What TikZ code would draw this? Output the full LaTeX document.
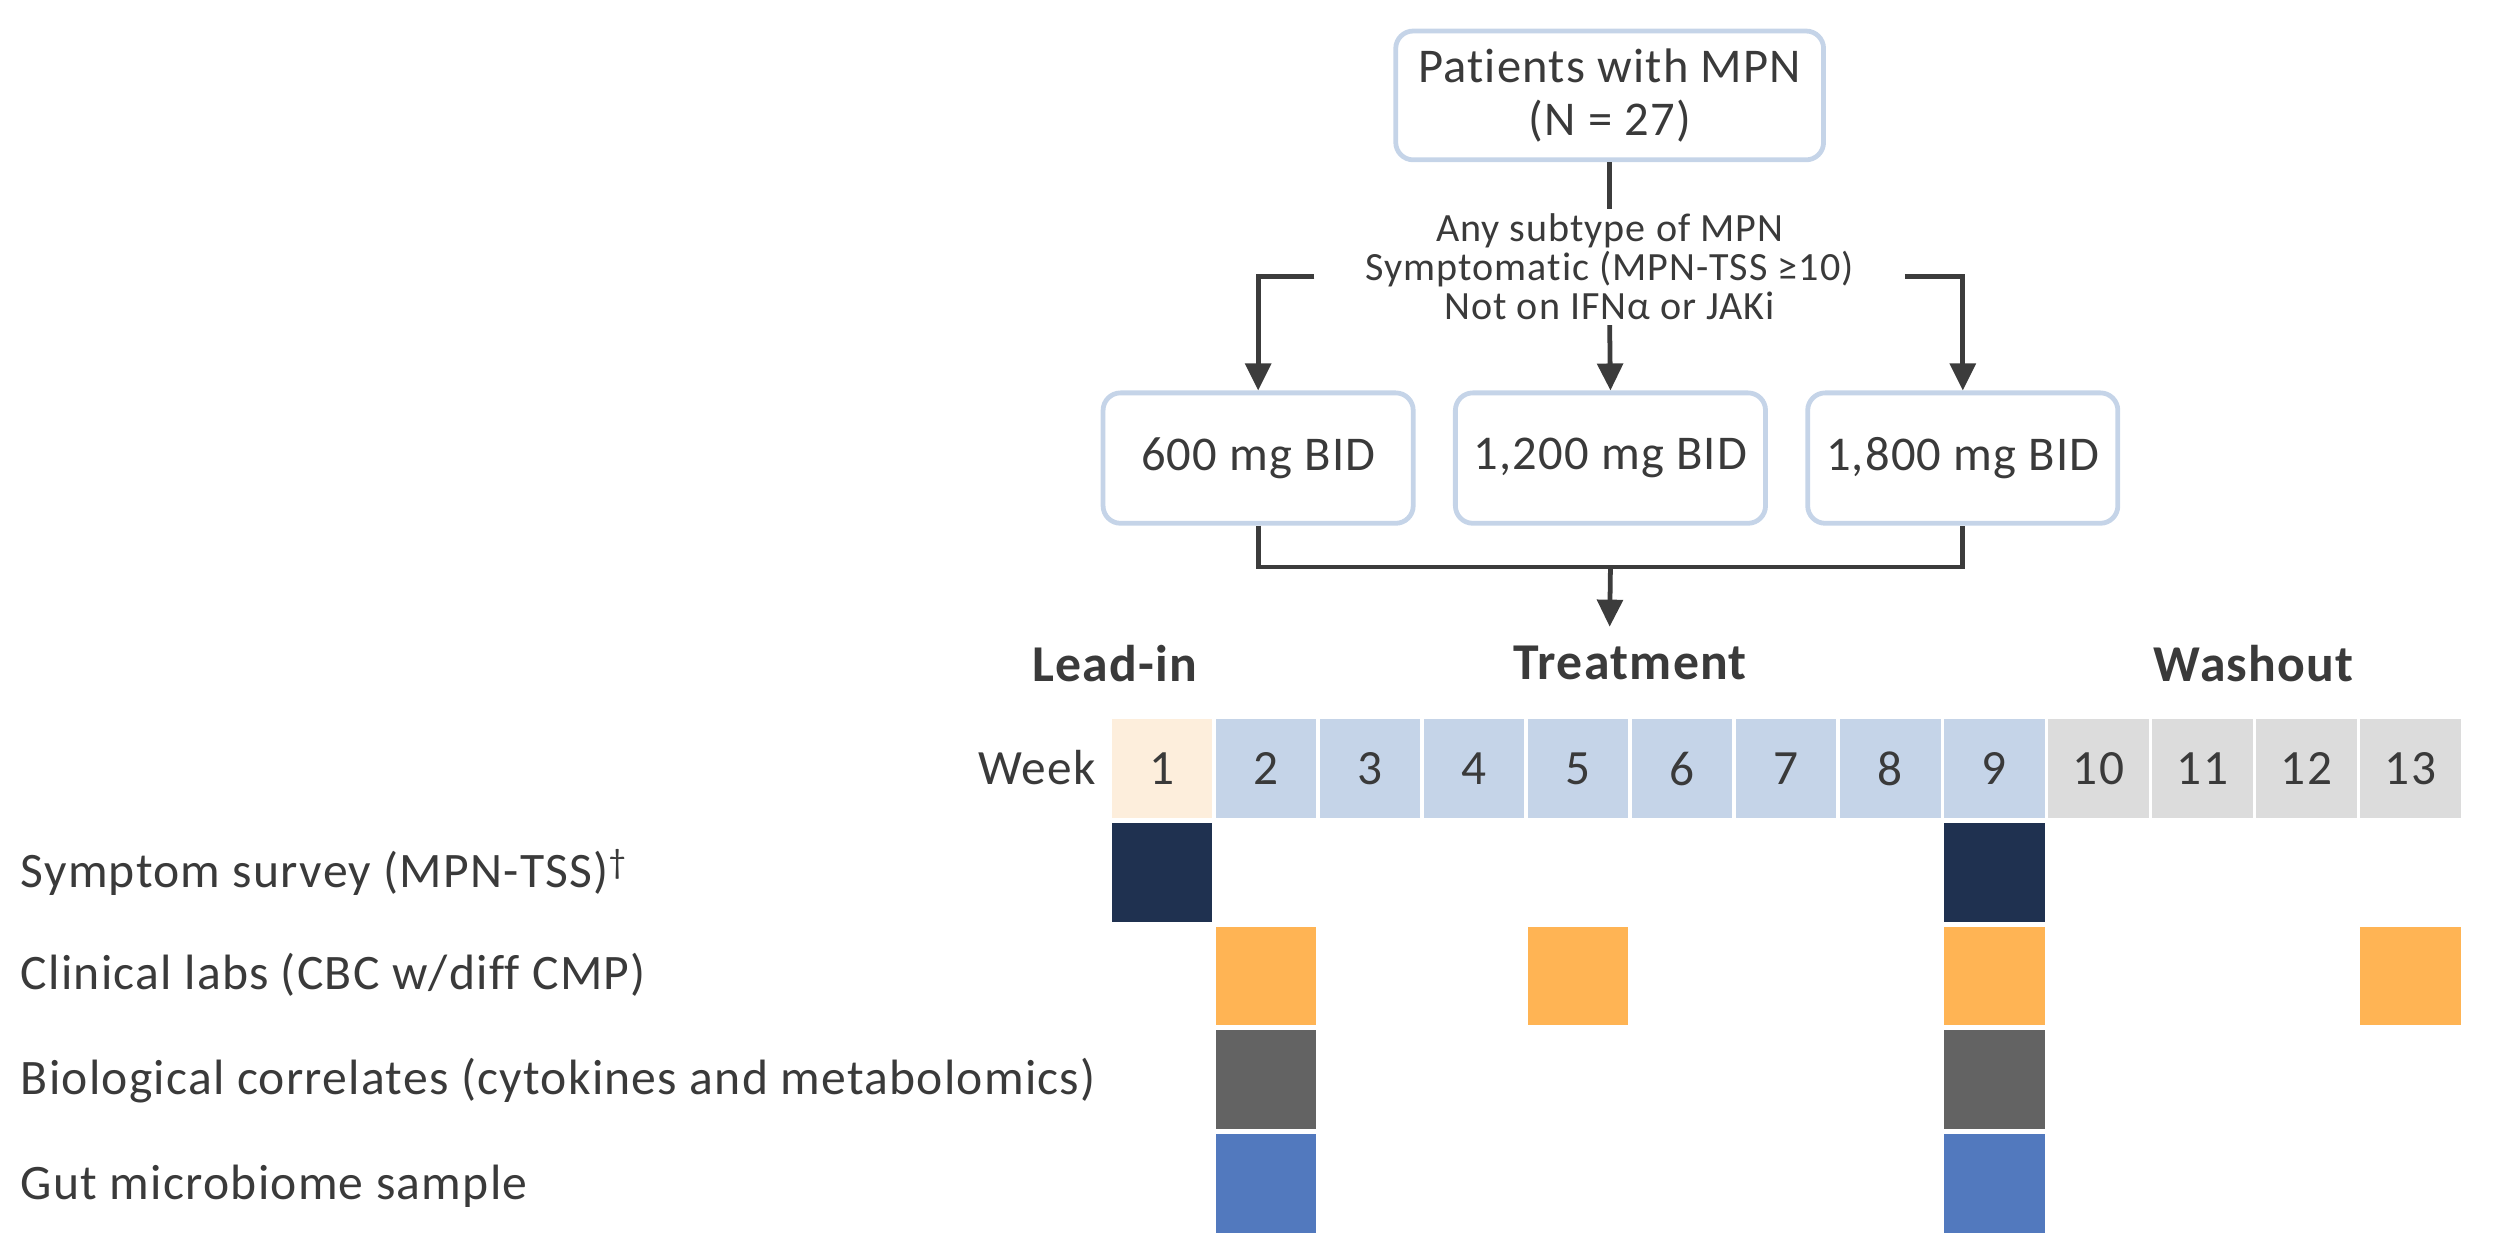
\documentclass[tikz,border=0pt]{standalone}
\usepackage{fontspec}
\setmainfont{Carlito}[LetterSpace=2.5,Ligatures=NoCommon]
\usetikzlibrary{arrows.meta,calc}
\definecolor{txt}{HTML}{3A3A3A}
\definecolor{linec}{HTML}{3C3C3C}
\definecolor{boxblue}{HTML}{C5D4E8}
\definecolor{leadin}{HTML}{FDEEDC}
\definecolor{treat}{HTML}{C5D4E8}
\definecolor{wash}{HTML}{DCDCDC}
\definecolor{navy}{HTML}{1F3150}
\definecolor{orangem}{HTML}{FFB454}
\definecolor{graym}{HTML}{636363}
\definecolor{bluem}{HTML}{5279BE}
\begin{document}
\begin{tikzpicture}[x=1pt,y=-1pt,
  every node/.style={text=txt},
  dosebox/.style={draw=boxblue, line width=3pt, rounded corners=11pt, fill=white,
    minimum width=195pt, minimum height=82pt, inner sep=0pt,
    font=\fontsize{30.5}{33}\selectfont, align=center},
  conn/.style={draw=linec, line width=3pt},
  arr/.style={conn, -{Triangle[width=16pt,length=17pt]}},
  cell/.style={minimum width=63pt, minimum height=62pt, inner sep=0pt, anchor=north west,
    font=\fontsize{31}{33}\selectfont},
  lbl/.style={anchor=base west, inner sep=0pt, font=\fontsize{31.2}{33}\selectfont},
  hdr/.style={inner sep=0pt, font=\fontsize{32.5}{34}\selectfont\bfseries},
  crit/.style={align=center, inner sep=3pt, font=\fontsize{25.2}{24.5}\selectfont}
]
\useasboundingbox (0,0) rectangle (1568,790.3);

% top box and criteria
\node[dosebox, minimum width=269pt, minimum height=81pt] (top) at (1012,60) {Patients with MPN\\(N = 27)};
\node[crit, anchor=base] (crit) at (1012,201) {Any subtype of MPN\\Symptomatic (MPN-TSS ≥10)\\Not on IFNα or JAKi};

% dose boxes
\node[dosebox] (b600) at (791,288) {600 mg BID};
\node[dosebox] (b1200) at (1012.5,288) {1,200 mg BID};
\node[dosebox] (b1800) at (1234,288) {1,800 mg BID};

% connectors
\coordinate (hl) at (0,174);
\draw[conn] (top.south) -- (crit.north);
\draw[arr] (crit.south) -- (b1200.north);
\draw[arr] ($(crit.west |- hl)+(-29,0)$) -| (b600.north);
\draw[arr] ($(crit.east |- hl)+(29,0)$) -| (b1800.north);
\coordinate (j) at ($(b600.south)+(0,26)$);
\draw[conn] (b600.south) -- (b600.south |- j) -- (b1800.south |- j) -- (b1800.south);
\coordinate (tgt) at (1012,394);
\draw[arr] (b1200.south |- j) -- (tgt);

% phase headers
\node[hdr] (hlead) at (701,417) {Lead-in};
\node[hdr] (htreat) at (1025,417) {Treatment};
\node[hdr] (hwash) at (1417,417) {Washout};

% week row
\node[anchor=base east, inner sep=0pt, font=\fontsize{31}{33}\selectfont] (week) at (689,493) {Week};
\foreach \c in {1,...,13}{
  \pgfmathsetmacro\xx{699+(\c-1)*65.4}
  \ifnum\c=1 \def\cc{leadin}\else\ifnum\c<10 \def\cc{treat}\else\def\cc{wash}\fi\fi
  \node[cell, fill=\cc] (w\c) at (\xx,452) {\c};
}

% assessment marks
\foreach \r/\c/\cc in {1/1/navy,1/9/navy,2/2/orangem,2/5/orangem,2/9/orangem,2/13/orangem,3/2/graym,3/9/graym,4/2/bluem,4/9/bluem}{
  \pgfmathsetmacro\xx{699+(\c-1)*65.4}
  \pgfmathsetmacro\yy{452+\r*65.2}
  \node[cell, fill=\cc] (m\r-\c) at (\xx,\yy) {};
}

% row labels
\node[lbl] (l1) at (13,558) {Symptom survey (MPN-TSS)\textsuperscript{†}};
\node[lbl] (l2) at (13,622) {Clinical labs (CBC w/diff CMP)};
\node[lbl] (l3) at (13,688) {Biological correlates (cytokines and metabolomics)};
\node[lbl] (l4) at (13,754) {Gut microbiome sample};
\end{tikzpicture}
\end{document}
